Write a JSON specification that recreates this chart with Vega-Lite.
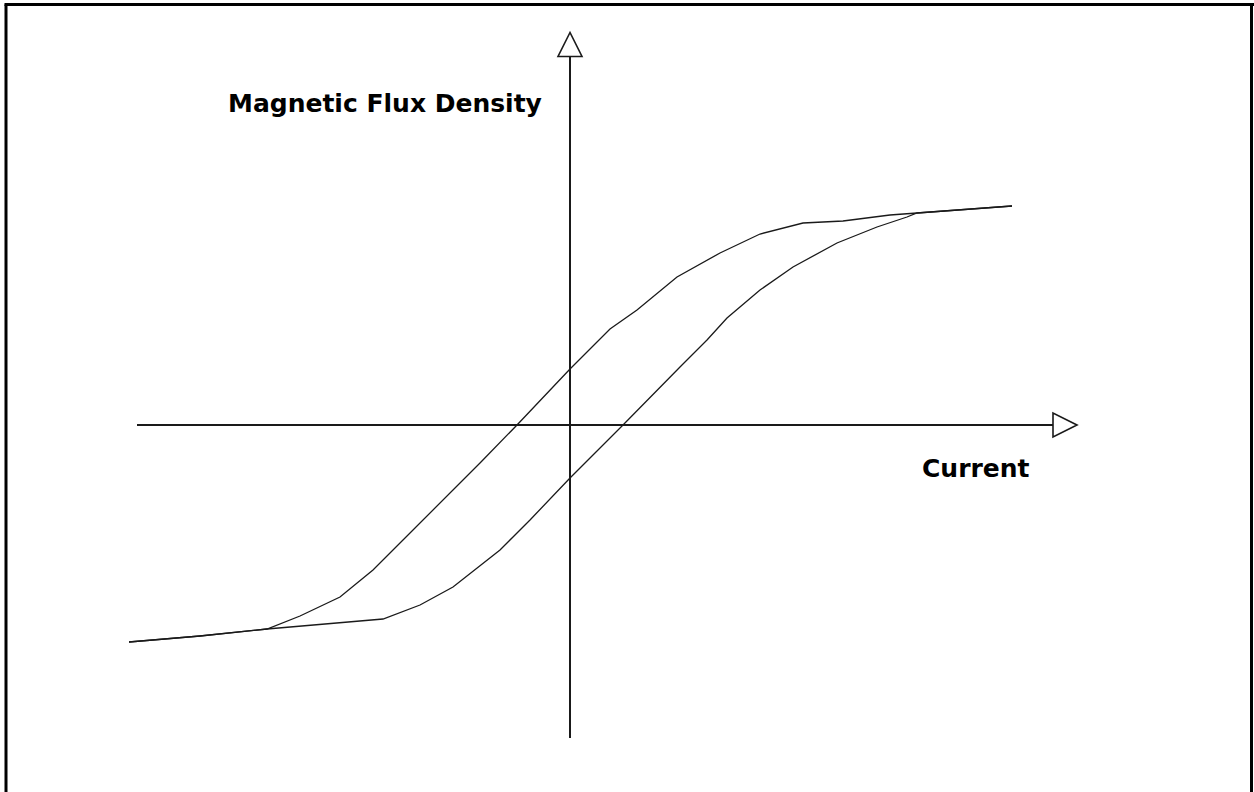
{
  "$schema": "https://vega.github.io/schema/vega-lite/v6.json",
  "width": 1254,
  "height": 792,
  "padding": 0,
  "autosize": {"type": "none"},
  "background": "white",
  "config": {"view": {"stroke": null}},
  "datasets": {
    "frame": [
      {"x": -5.64, "y": -3.80, "x2": -5.64, "y2": 4.205},
      {"x": -5.655, "y": 4.205, "x2": 6.84, "y2": 4.205},
      {"x": 6.815, "y": 4.22, "x2": 6.815, "y2": -3.80}
    ],
    "axes": [
      {"x": 0, "y": -3.13, "x2": 0, "y2": 3.69},
      {"x": -4.33, "y": 0, "x2": 4.83, "y2": 0}
    ],
    "arrows": [
      {"dir": "up", "x": 0, "y": 3.805},
      {"dir": "right", "x": 4.95, "y": 0}
    ],
    "labels": [
      {"text": "Magnetic Flux Density", "x": -3.42, "y": 3.13},
      {"text": "Current", "x": 3.52, "y": -0.52}
    ],
    "loop": [
      {"branch": "descending", "i": 0, "current": 4.42, "flux": 2.19},
      {"branch": "descending", "i": 1, "current": 3.47, "flux": 2.12},
      {"branch": "descending", "i": 2, "current": 3.20, "flux": 2.10},
      {"branch": "descending", "i": 3, "current": 2.73, "flux": 2.04},
      {"branch": "descending", "i": 4, "current": 2.33, "flux": 2.02},
      {"branch": "descending", "i": 5, "current": 1.90, "flux": 1.91},
      {"branch": "descending", "i": 6, "current": 1.50, "flux": 1.72},
      {"branch": "descending", "i": 7, "current": 1.07, "flux": 1.48},
      {"branch": "descending", "i": 8, "current": 0.67, "flux": 1.15},
      {"branch": "descending", "i": 9, "current": 0.40, "flux": 0.96},
      {"branch": "descending", "i": 10, "current": 0.00, "flux": 0.56},
      {"branch": "descending", "i": 11, "current": -0.53, "flux": 0.00},
      {"branch": "descending", "i": 12, "current": -0.90, "flux": -0.38},
      {"branch": "descending", "i": 13, "current": -1.67, "flux": -1.15},
      {"branch": "descending", "i": 14, "current": -1.97, "flux": -1.45},
      {"branch": "descending", "i": 15, "current": -2.30, "flux": -1.72},
      {"branch": "descending", "i": 16, "current": -2.70, "flux": -1.91},
      {"branch": "descending", "i": 17, "current": -3.03, "flux": -2.04},
      {"branch": "descending", "i": 18, "current": -3.70, "flux": -2.11},
      {"branch": "descending", "i": 19, "current": -4.41, "flux": -2.17},
      {"branch": "ascending", "i": 0, "current": -4.41, "flux": -2.17},
      {"branch": "ascending", "i": 1, "current": -3.70, "flux": -2.11},
      {"branch": "ascending", "i": 2, "current": -3.03, "flux": -2.04},
      {"branch": "ascending", "i": 3, "current": -1.87, "flux": -1.94},
      {"branch": "ascending", "i": 4, "current": -1.50, "flux": -1.80},
      {"branch": "ascending", "i": 5, "current": -1.17, "flux": -1.62},
      {"branch": "ascending", "i": 6, "current": -0.70, "flux": -1.25},
      {"branch": "ascending", "i": 7, "current": -0.40, "flux": -0.95},
      {"branch": "ascending", "i": 8, "current": 0.00, "flux": -0.53},
      {"branch": "ascending", "i": 9, "current": 0.53, "flux": 0.00},
      {"branch": "ascending", "i": 10, "current": 1.10, "flux": 0.58},
      {"branch": "ascending", "i": 11, "current": 1.37, "flux": 0.85},
      {"branch": "ascending", "i": 12, "current": 1.57, "flux": 1.07},
      {"branch": "ascending", "i": 13, "current": 1.90, "flux": 1.35},
      {"branch": "ascending", "i": 14, "current": 2.23, "flux": 1.58},
      {"branch": "ascending", "i": 15, "current": 2.67, "flux": 1.82},
      {"branch": "ascending", "i": 16, "current": 3.07, "flux": 1.98},
      {"branch": "ascending", "i": 17, "current": 3.37, "flux": 2.08},
      {"branch": "ascending", "i": 18, "current": 3.47, "flux": 2.12},
      {"branch": "ascending", "i": 19, "current": 4.42, "flux": 2.19}
    ]
  },
  "layer": [
    {
      "data": {"name": "frame"},
      "mark": {"type": "rule", "color": "black", "strokeWidth": 3},
      "encoding": {
        "x": {"field": "x", "type": "quantitative", "scale": {"domain": [-5.70, 6.84], "nice": false, "zero": false}, "axis": null},
        "y": {"field": "y", "type": "quantitative", "scale": {"domain": [-3.67, 4.25], "nice": false, "zero": false}, "axis": null},
        "x2": {"field": "x2"},
        "y2": {"field": "y2"}
      }
    },
    {
      "data": {"name": "axes"},
      "mark": {"type": "rule", "color": "#1a1a1a", "strokeWidth": 2},
      "encoding": {
        "x": {"field": "x", "type": "quantitative"},
        "y": {"field": "y", "type": "quantitative"},
        "x2": {"field": "x2"},
        "y2": {"field": "y2"}
      }
    },
    {
      "data": {"name": "loop"},
      "mark": {"type": "line", "color": "#1a1a1a", "strokeWidth": 1.3},
      "encoding": {
        "x": {"field": "current", "type": "quantitative"},
        "y": {"field": "flux", "type": "quantitative"},
        "detail": {"field": "branch"},
        "order": {"field": "i", "type": "quantitative"}
      }
    },
    {
      "data": {"name": "arrows"},
      "transform": [{"filter": "datum.dir === 'up'"}],
      "mark": {"type": "point", "shape": "M0,-1L-1,1L1,1Z", "size": 576, "filled": true, "fill": "white", "stroke": "#1a1a1a", "strokeWidth": 1.6, "opacity": 1},
      "encoding": {
        "x": {"field": "x", "type": "quantitative"},
        "y": {"field": "y", "type": "quantitative"}
      }
    },
    {
      "data": {"name": "arrows"},
      "transform": [{"filter": "datum.dir === 'right'"}],
      "mark": {"type": "point", "shape": "M1,0L-1,-1L-1,1Z", "size": 576, "filled": true, "fill": "white", "stroke": "#1a1a1a", "strokeWidth": 1.6, "opacity": 1},
      "encoding": {
        "x": {"field": "x", "type": "quantitative"},
        "y": {"field": "y", "type": "quantitative"}
      }
    },
    {
      "data": {"name": "labels"},
      "mark": {"type": "text", "align": "left", "baseline": "alphabetic", "font": "DejaVu Sans", "fontWeight": "bold", "fontSize": 25, "color": "black"},
      "encoding": {
        "x": {"field": "x", "type": "quantitative"},
        "y": {"field": "y", "type": "quantitative"},
        "text": {"field": "text"}
      }
    }
  ]
}
